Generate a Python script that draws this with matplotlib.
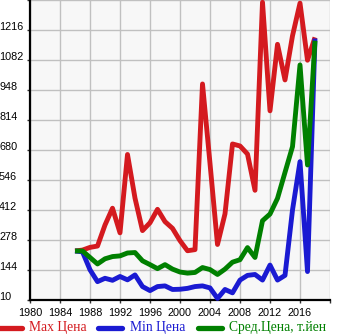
import matplotlib
matplotlib.use("Agg")
import matplotlib.pyplot as plt
from matplotlib.lines import Line2D
from matplotlib.transforms import blended_transform_factory

# Price history by model year (thousand yen)
years = list(range(1986, 2019))
max_price = [229, 233, 245, 251, 345, 420, 310, 660, 465, 320, 355, 415, 360, 330,
             275, 230, 235, 975, 620, 258, 395, 707, 698, 662, 500, 1340, 855, 1152,
             993, 1190, 1336, 1081, 1183]
min_price = [229, 225, 145, 92, 107, 98, 115, 100, 122, 70, 52, 70, 73, 57,
             58, 62, 70, 73, 64, 17, 57, 42, 99, 120, 124, 99, 166, 99,
             120, 412, 628, 137, 1178]
avg_price = [229, 229, 200, 171, 194, 204, 207, 220, 222, 185, 168, 150, 168, 148,
             135, 130, 133, 155, 146, 124, 148, 179, 190, 244, 200, 364, 394, 464,
             580, 695, 1060, 613, 1168]

series_names = ["Max Цена", "Min Цена", "Сред.Цена, т.йен"]
series_colors = ["#d41a1f", "#1a1ad2", "#008000"]

x_ticks = list(range(1980, 2021, 4))
x_tick_labels = [str(v) for v in x_ticks[:-1]] + [""]
y_ticks = [10 + 134 * k for k in range(11)]
y_tick_labels = [str(v) for v in y_ticks[:-1]] + [""]

W, H = 345, 335
fig = plt.figure(figsize=(W / 100, H / 100), dpi=100)
fig.patch.set_facecolor("white")
ax = fig.add_axes([30 / W, 35 / H, 300 / W, 300 / H])
ax.set_facecolor("#f7f7f7")

ax.set_xlim(1980, 2020)
ax.set_ylim(10, 1350)
ax.set_xticks(x_ticks)
ax.set_xticklabels(x_tick_labels)
ax.set_yticks(y_ticks)
ax.set_yticklabels(y_tick_labels)
ax.set_xticks(range(1980, 2021, 4))
ax.grid(True, color="#c0c0c0", linewidth=1.0)
ax.set_axisbelow(True)

for side in ("top", "right"):
    ax.spines[side].set_visible(False)
for side in ("left", "bottom"):
    ax.spines[side].set_color("black")
    ax.spines[side].set_linewidth(1.6)

tick_font = dict(family="Liberation Sans", size=7.8)
ax.tick_params(axis="x", length=2.5, width=1, color="#333333", pad=3)
ax.tick_params(axis="y", length=2.5, width=1, color="#333333", pad=21.6 - 1.8)
for lab in ax.get_xticklabels():
    lab.set_fontfamily(tick_font["family"])
    lab.set_fontsize(tick_font["size"])
for lab in ax.get_yticklabels():
    lab.set_fontfamily(tick_font["family"])
    lab.set_fontsize(tick_font["size"])
    lab.set_horizontalalignment("left")
    lab.set_verticalalignment("baseline")

for vals, col in zip([max_price, min_price, avg_price], series_colors):
    ax.plot(years, vals, color=col, linewidth=3.5, solid_joinstyle="round",
            solid_capstyle="butt", clip_on=False, zorder=3)

# Legend row along the bottom edge
handle_x = [-2, 98, 198]
text_x = [29, 130, 229]
ly = H - 328
for name, col, hx, tx in zip(series_names, series_colors, handle_x, text_x):
    fig.add_artist(Line2D([hx / W, (hx + 24) / W], [ly / H, ly / H],
                          transform=fig.transFigure, color=col,
                          linewidth=3.8, solid_capstyle="round"))
    fig.text(tx / W, ly / H, name, color=col, family="Liberation Serif",
             fontsize=9.8, ha="left", va="center")

fig.savefig("out.png", dpi=100)
